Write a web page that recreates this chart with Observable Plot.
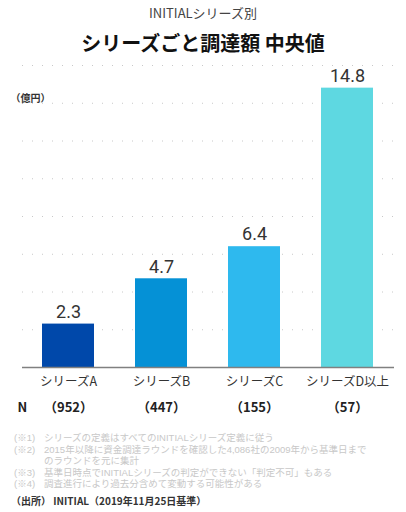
<!DOCTYPE html>
<html><head><meta charset="utf-8">
<script src="https://cdn.jsdelivr.net/npm/d3@7"></script>
<script src="https://cdn.jsdelivr.net/npm/@observablehq/plot@0.6"></script>
<style>
body{margin:0;background:#fff;font-family:"Noto Sans CJK JP","Noto Sans",sans-serif;}
#wrap{width:406px;height:512px;position:relative;overflow:hidden;}
.sub{position:absolute;left:0;width:406px;top:5px;text-align:center;font-size:13px;color:#444;line-height:16px;}
.title{position:absolute;left:0;width:406px;top:30px;text-align:center;font-size:20px;font-weight:bold;color:#111;line-height:26px;}
#chart{position:absolute;left:0;top:58px;}
.fn{position:absolute;left:14px;font-family:"Liberation Sans","Noto Sans CJK JP",sans-serif;font-size:9.5px;color:#c8c8c8;line-height:11px;height:11px;white-space:nowrap;}
.fn span{display:inline-block;width:30px;}
.src{position:absolute;left:11px;top:494px;font-size:10px;font-weight:bold;color:#333;white-space:nowrap;line-height:13px;}
</style></head>
<body><div id="wrap">
<div class="sub">INITIALシリーズ別</div>
<div class="title">シリーズごと調達額 中央値</div>
<div id="chart"></div>
<div class="fn" style="top:432px"><span>(※1)</span>シリーズの定義はすべてのINITIALシリーズ定義に従う</div>
<div class="fn" style="top:443.5px"><span>(※2)</span>2015年以降に資金調達ラウンドを確認した4,086社の2009年から基準日まで</div>
<div class="fn" style="top:455px"><span></span>のラウンドを元に集計</div>
<div class="fn" style="top:466.5px"><span>(※3)</span>基準日時点でINITIALシリーズの判定ができない「判定不可」もある</div>
<div class="fn" style="top:478px"><span>(※4)</span>調査進行により過去分含めて変動する可能性がある</div>
<div class="src">（出所） INITIAL（2019年11月25日基準）</div>
</div>
<script>
const categories = ["シリーズA", "シリーズB", "シリーズC", "シリーズD以上"];
const medians = [2.3, 4.7, 6.4, 14.8];
const counts = [952, 447, 155, 57];
const colors = ["#0048AA", "#0591D6", "#2EB9EE", "#5ED8E1"];
const gridTicks = [2, 4, 6, 8, 10, 12, 14, 16];

const data = categories.map((c, i) => ({cat: c, v: medians[i], n: counts[i], color: colors[i]}));

const chart = Plot.plot({
  width: 406,
  height: 362,
  marginTop: 7,
  marginBottom: 53,
  marginLeft: 22,
  marginRight: 12,
  style: {background: "transparent", fontFamily: "\"Noto Sans CJK JP\", sans-serif"},
  x: {domain: categories, paddingInner: 0.44, paddingOuter: 0.22, label: null},
  y: {domain: [0, 16], axis: null},
  marks: [
    Plot.ruleY(gridTicks, {stroke: "#c8c8c8", strokeDasharray: "1,9", strokeWidth: 1}),
    Plot.barY(data, {x: "cat", y: "v", fill: "color"}),
    Plot.ruleY([0], {stroke: "#808080", strokeWidth: 1.5}),
    Plot.text(data, {x: "cat", y: "v", text: d => d.v.toFixed(1), dy: -12, fontSize: 18, fill: "#333", fontFamily: "Roboto, sans-serif"}),
    Plot.axisX({tickSize: 0, tickPadding: 10, fontSize: 12.5, color: "#333"}),
    Plot.text(data, {x: "cat", frameAnchor: "bottom", text: d => "（" + d.n + "）", dy: 44, fontSize: 13, fontWeight: "bold", fill: "#222"}),
    Plot.text(["N"], {frameAnchor: "bottom-left", textAnchor: "start", dx: -5, dy: 44, fontSize: 13, fontWeight: "bold", fill: "#222"}),
    Plot.text(["（億円）"], {frameAnchor: "top-left", textAnchor: "start", dx: -12, dy: 29, fontSize: 10, fontWeight: "bold", fill: "#333"})
  ]
});
document.getElementById("chart").appendChild(chart);
</script>
</body></html>
